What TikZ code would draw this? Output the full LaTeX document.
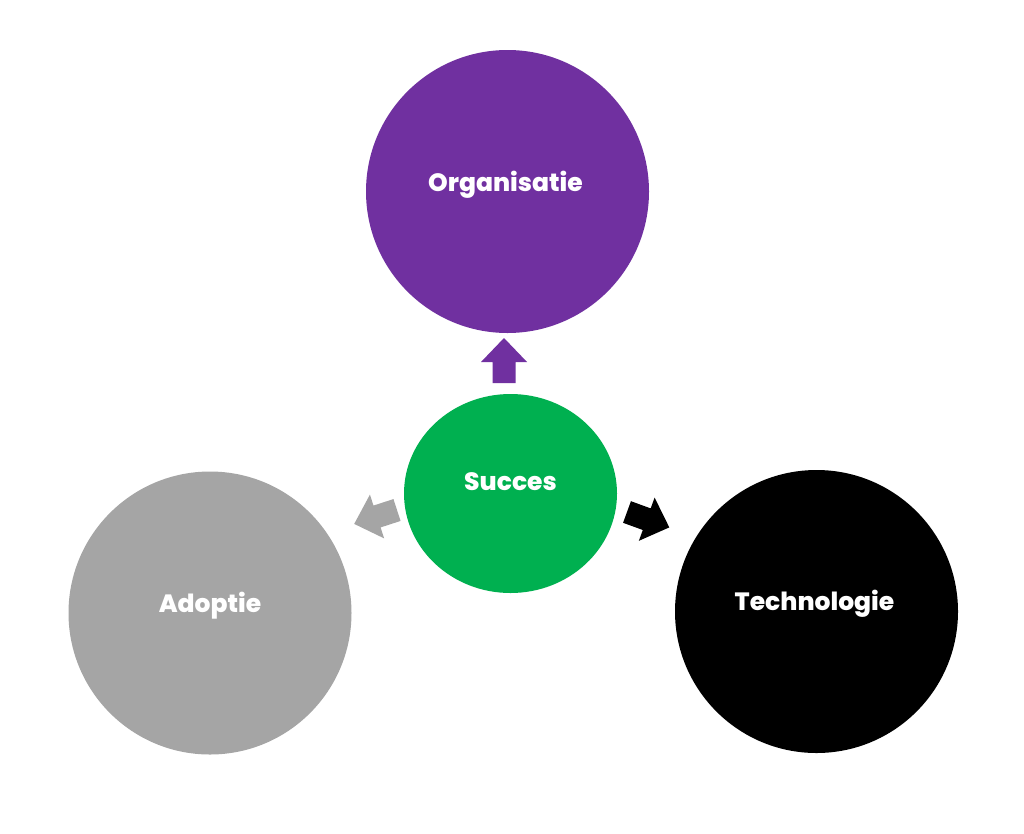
\documentclass[tikz,border=0pt]{standalone}
\usepackage{fontspec}
\setmainfont{Poppins}[BoldFont={Poppins ExtraBold}]
\usetikzlibrary{shapes.geometric}
\definecolor{orgpurple}{HTML}{7030A0}
\definecolor{sucgreen}{HTML}{00B050}
\definecolor{adgray}{HTML}{A5A5A5}
\tikzset{
  circ/.style={circle, inner sep=0pt, minimum size=283pt, draw=none},
  lbl/.style={anchor=base, text=white, font=\fontsize{25}{29}\selectfont\bfseries, inner sep=0pt}
}
\newcommand{\blockarrow}[3]{%
  \begin{scope}[shift={(#2)}, rotate=#3]
    \fill[#1] (0pt,-11.5pt) -- (21pt,-11.5pt) -- (21pt,-23pt) -- (45pt,0pt) -- (21pt,23pt) -- (21pt,11.5pt) -- (0pt,11.5pt) -- cycle;
  \end{scope}}
\begin{document}
\begin{tikzpicture}[x=1pt,y=-1pt]
\useasboundingbox[fill=white] (0,0) rectangle (1024,833);
\node[circ, fill=orgpurple] (org) at (507.5,191.5) {};
\node[circ, fill=adgray] (ado) at (210,613) {};
\node[circ, fill=black] (tech) at (816.5,611.5) {};
\node[ellipse, inner sep=0pt, minimum width=213pt, minimum height=199pt, fill=sucgreen] (suc) at (510.5,493.5) {};
\node[lbl] (torg) at ([xshift=-2pt,yshift=0pt]org.center) {Organisatie};
\node[lbl] (tado) at ([yshift=1pt]ado.center) {Adoptie};
\node[lbl] (ttech) at ([xshift=-2pt,yshift=1pt]tech.center) {Technologie};
\node[lbl] (tsuc) at ([yshift=3pt]suc.center) {Succes};
\coordinate (aorg) at (504,383);
\coordinate (aado) at (397,510);
\coordinate (atech) at (627,512);
\blockarrow{orgpurple}{aorg}{90}
\blockarrow{adgray}{aado}{198}
\blockarrow{black}{atech}{-20}
\end{tikzpicture}
\end{document}
